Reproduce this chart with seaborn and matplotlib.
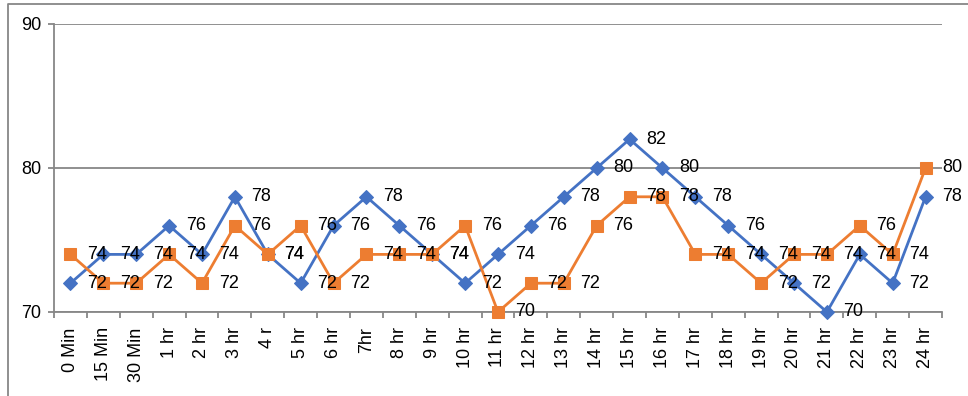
import matplotlib
matplotlib.use("Agg")
import matplotlib.pyplot as plt
from matplotlib.lines import Line2D
from matplotlib.ticker import FixedLocator
import seaborn as sns
import pandas as pd
import numpy as np

# Time points of the readings
times = ["0 Min", "15 Min", "30 Min", "1 hr", "2 hr", "3 hr", "4 r", "5 hr", "6 hr",
         "7hr", "8 hr", "9 hr", "10 hr", "11 hr", "12 hr", "13 hr", "14 hr", "15 hr",
         "16 hr", "17 hr", "18 hr", "19 hr", "20 hr", "21 hr", "22 hr", "23 hr", "24 hr"]

# Two series of readings
series_a = [72, 74, 74, 76, 74, 78, 74, 72, 76, 78, 76, 74, 72, 74, 76, 78, 80, 82,
            80, 78, 76, 74, 72, 70, 74, 72, 78]
series_b = [74, 72, 72, 74, 72, 76, 74, 76, 72, 74, 74, 74, 76, 70, 72, 72, 76, 78,
            78, 74, 74, 72, 74, 74, 76, 74, 80]

y_ticks = [70, 80, 90]

BLUE = "#4472C4"
ORANGE = "#ED7D31"
GRID = "#878787"

sns.set_theme(style="white")
plt.rcParams["font.family"] = ["Liberation Sans", "DejaVu Sans"]

W, H, DPI = 968, 396, 100
fig = plt.figure(figsize=(W / DPI, H / DPI), dpi=DPI)
ax = fig.add_axes([54 / W, (H - 312) / H, (942 - 54) / W, (312 - 24) / H])

pos = np.arange(len(times))
df = pd.DataFrame({"pos": pos, "a": series_a, "b": series_b})

sns.lineplot(data=df, x="pos", y="a", ax=ax, color=BLUE, lw=2.0,
             marker="D", markersize=7, markeredgecolor=BLUE, clip_on=False, zorder=3)
sns.lineplot(data=df, x="pos", y="b", ax=ax, color=ORANGE, lw=2.0,
             marker="s", markersize=8, markeredgecolor=ORANGE, clip_on=False, zorder=4)

# Value labels to the right of each point
for series in (series_a, series_b):
    for x, v in zip(pos, series):
        ax.annotate(f"{v}", (x, v), xytext=(12, 0), textcoords="offset points",
                    ha="left", va="center", fontsize=13, color="black",
                    zorder=6, annotation_clip=False)

ax.set_xlim(-0.5, len(times) - 0.5)
ax.set_ylim(y_ticks[0], y_ticks[-1])
ax.set_yticks(y_ticks)
ax.set_yticklabels([str(t) for t in y_ticks])
ax.set_xticks(pos)
ax.set_xticklabels(times, rotation=90, va="top", ha="center")
ax.xaxis.set_minor_locator(FixedLocator(np.arange(-0.5, len(times), 1.0)))
ax.set_xlabel("")
ax.set_ylabel("")

ax.yaxis.grid(True, color=GRID, lw=1.3)
ax.xaxis.grid(False)
ax.set_axisbelow(True)

for side in ("top", "right"):
    ax.spines[side].set_visible(False)
for side in ("left", "bottom"):
    ax.spines[side].set_color(GRID)
    ax.spines[side].set_linewidth(1.3)

ax.tick_params(axis="y", which="major", direction="out", length=4, width=1.3,
               color=GRID, pad=5, labelsize=13, labelcolor="black", left=True)
ax.tick_params(axis="x", which="major", length=0, pad=11, labelsize=13,
               labelcolor="black")
ax.tick_params(axis="x", which="minor", direction="out", length=4.5, width=1.3,
               color=GRID, bottom=True)

# Chart-area border
fig.add_artist(Line2D([8 / W, 8 / W, 1.0], [0.0, 1 - 4 / H, 1 - 4 / H],
                      transform=fig.transFigure, color=GRID, lw=1.3))

fig.savefig("out.png", dpi=DPI)
